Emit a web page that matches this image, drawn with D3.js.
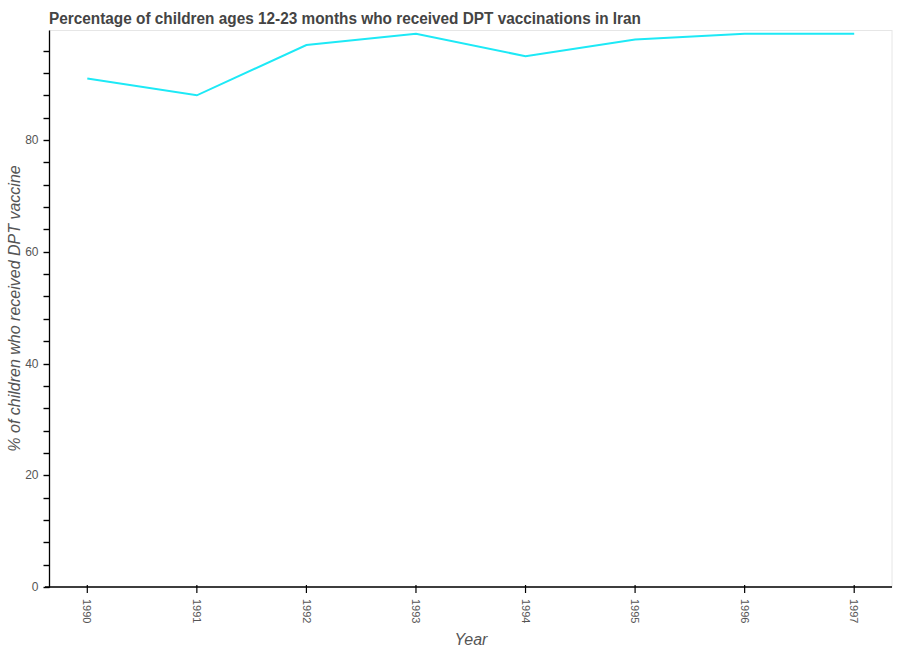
<!DOCTYPE html>
<html><head><meta charset="utf-8">
<script src="https://cdn.jsdelivr.net/npm/d3@7"></script>
<style>body{margin:0;background:#fff;}svg{display:block;font-family:Arial,"Liberation Sans",sans-serif;}</style>
</head><body><svg id="c" width="897" height="650"></svg>
<script>
const years = [1990, 1991, 1992, 1993, 1994, 1995, 1996, 1997];
const values = [91, 88, 97, 99, 95, 98, 99, 99];
const yTicks = d3.range(0, 100, 4);
const yLabels = [0, 20, 40, 60, 80];
const title = "Percentage of children ages 12-23 months who received DPT vaccinations in Iran";
const xTitle = "Year";
const yTitle = "% of children who received DPT vaccine";

const svg = d3.select("#c");
const L = 49.5, R = 892, T = 30.5, B = 587;
const x = d3.scaleLinear().domain([1989.655, 1997.345]).range([L, R]);
const y = d3.scaleLinear().domain([0, 80]).range([B, 140]);

svg.append("rect").attr("x", L).attr("y", T).attr("width", R - L).attr("height", B - T)
  .attr("fill", "none").attr("stroke", "#e6e6e6").attr("stroke-width", 1);

svg.append("g").selectAll("line").data(yTicks).join("line")
  .attr("x1", L - 6).attr("x2", L).attr("y1", d => Math.round(y(d)) + 0.5).attr("y2", d => Math.round(y(d)) + 0.5)
  .attr("stroke", "#000").attr("stroke-width", 1.4);
svg.append("line").attr("x1", L).attr("x2", L).attr("y1", T).attr("y2", B + 0.5).attr("stroke", "#000").attr("stroke-width", 1.3);
svg.append("g").selectAll("text").data(yLabels).join("text")
  .attr("x", L - 11).attr("y", d => y(d)).attr("dy", "0.35em").attr("text-anchor", "end")
  .attr("font-size", 12).attr("fill", "#555").text(d => d);

const xa = svg.append("g");
xa.append("line").attr("x1", 45).attr("x2", R).attr("y1", B).attr("y2", B).attr("stroke", "#000").attr("stroke-width", 1.3);
xa.selectAll("line.t").data(years).join("line").attr("class", "t")
  .attr("x1", d => x(d)).attr("x2", d => x(d)).attr("y1", B - 2).attr("y2", B + 6).attr("stroke", "#000").attr("stroke-width", 1.2);
xa.selectAll("text").data(years).join("text")
  .attr("transform", d => `translate(${x(d)},${B + 12}) rotate(90)`)
  .attr("dy", "0.35em").attr("text-anchor", "start")
  .attr("font-size", 11).attr("fill", "#555").text(d => d);

const line = d3.line().x((d, i) => x(years[i])).y(d => y(d));
svg.append("path").datum(values).attr("d", line).attr("fill", "none")
  .attr("stroke", "#1de9f6").attr("stroke-width", 2);

svg.append("text").attr("x", 49).attr("y", 24).attr("font-size", 16).attr("font-weight", "bold")
  .attr("fill", "#444").attr("textLength", 592).attr("lengthAdjust", "spacingAndGlyphs").text(title);
svg.append("text").attr("x", 471).attr("y", 645).attr("text-anchor", "middle")
  .attr("font-size", 16).attr("font-style", "italic").attr("fill", "#555").text(xTitle);
svg.append("text").attr("transform", `translate(20,308.5) rotate(-90)`)
  .attr("text-anchor", "middle").attr("font-size", 16).attr("font-style", "italic")
  .attr("fill", "#555").text(yTitle);
</script></body></html>
